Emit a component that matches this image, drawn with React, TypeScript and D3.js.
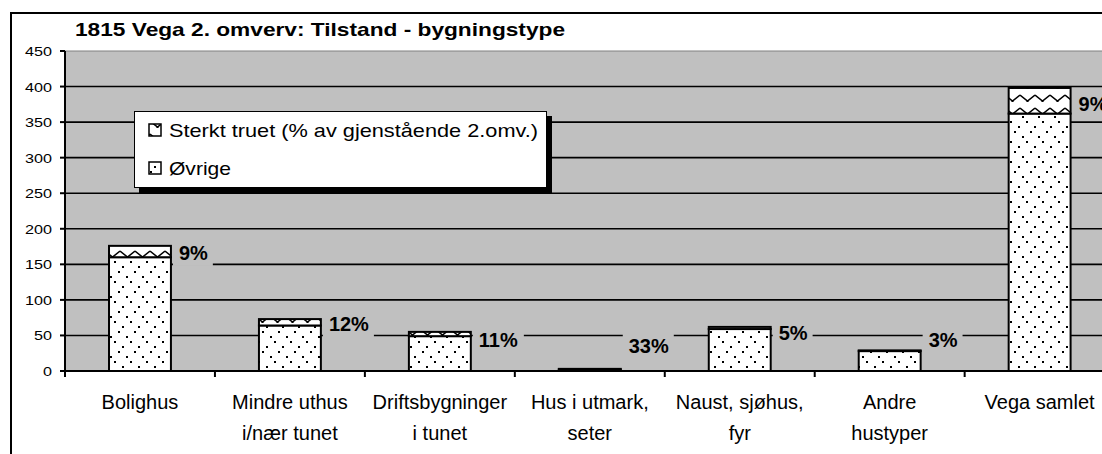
import React from "react";
import * as d3 from "d3";

const categories: string[][] = [
  ["Bolighus"],
  ["Mindre uthus", "i/nær tunet"],
  ["Driftsbygninger", "i tunet"],
  ["Hus i utmark,", "seter"],
  ["Naust, sjøhus,", "fyr"],
  ["Andre", "hustyper"],
  ["Vega samlet"],
];
const ovrige = [160, 64, 49, 2, 59, 28, 362];
const sterktTruet = [16, 9, 6, 1, 3, 1, 36];
const labelLevel = [166, 66, 44, 35, 53, 44, 376];
const yTicks = [0, 50, 100, 150, 200, 250, 300, 350, 400, 450];
const title = "1815 Vega 2. omverv: Tilstand - bygningstype";
const legendLabels = ["Sterkt truet (% av gjenstående 2.omv.)", "Øvrige"];

const W = 1102;
const H = 454;
const plotLeft = 65;
const plotRight = 1114.6;
const plotTop = 51;
const plotBottom = 371;
const FONT = "'Liberation Sans', Arial, Helvetica, sans-serif";

export default function App() {
  const x = d3
    .scaleBand<number>()
    .domain(d3.range(categories.length))
    .range([plotLeft, plotRight])
    .paddingInner(0.587)
    .paddingOuter(0.2935);
  const y = d3.scaleLinear().domain([0, 450]).range([plotBottom, plotTop]);
  const step = x.step();
  const bw = x.bandwidth();

  const pct = ovrige.map((o, i) => Math.round((sterktTruet[i] / (o + sterktTruet[i])) * 100) + "%");

  return (
    <svg
      width={W}
      height={H}
      style={{ position: "absolute", left: 0, top: 0, background: "#fff" }}
      fontFamily={FONT}
    >
      <defs>
        <pattern id="dots" patternUnits="userSpaceOnUse" width={16} height={20}>
          <rect width={16} height={20} fill="#fff" />
          <rect x={2} y={1} width={2} height={2} fill="#000" />
          <rect x={10} y={6} width={2} height={2} fill="#000" />
          <rect x={6} y={11} width={2} height={2} fill="#000" />
          <rect x={14} y={16} width={2} height={2} fill="#000" />
        </pattern>
        <pattern id="zigzag" patternUnits="userSpaceOnUse" width={15} height={13} y={1}>
          <rect width={15} height={13} fill="#fff" />
          <path d="M0,3 L7.5,9 L15,3" fill="none" stroke="#000" strokeWidth={1.6} />
          <rect x={6.5} y={8} width={2} height={2} fill="#000" />
        </pattern>
      </defs>

      {/* chart frame */}
      <rect x={11} y={13} width={1200} height={600} fill="#fff" stroke="#000" strokeWidth={2} />

      {/* title */}
      <text
        x={75}
        y={36}
        fontSize={19}
        fontWeight="bold"
        textLength={490}
        lengthAdjust="spacingAndGlyphs"
        fill="#000"
      >
        {title}
      </text>

      {/* plot area */}
      <rect x={plotLeft} y={plotTop} width={plotRight - plotLeft} height={plotBottom - plotTop} fill="#c0c0c0" />
      <line x1={plotLeft} x2={plotRight} y1={plotTop} y2={plotTop} stroke="#808080" strokeWidth={1} />

      {/* gridlines */}
      {yTicks
        .filter((t) => t > 0 && t < 450)
        .map((t) => (
          <line key={t} x1={plotLeft} x2={plotRight} y1={y(t)} y2={y(t)} stroke="#000" strokeWidth={1.6} />
        ))}

      {/* bars */}
      {categories.map((_, i) => {
        const x0 = x(i)!;
        const total = ovrige[i] + sterktTruet[i];
        return (
          <g key={i}>
            <rect
              x={x0}
              y={y(ovrige[i])}
              width={bw}
              height={y(0) - y(ovrige[i])}
              fill="url(#dots)"
              stroke="#000"
              strokeWidth={2}
            />
            <rect
              x={x0}
              y={y(total)}
              width={bw}
              height={y(ovrige[i]) - y(total)}
              fill="url(#zigzag)"
              stroke="#000"
              strokeWidth={2}
            />
          </g>
        );
      })}

      {/* percentage labels */}
      {categories.map((_, i) => {
        const tx = x(i)! + bw + 8;
        const cy = y(labelLevel[i]);
        const txt = pct[i];
        const nDigits = txt.length - 1;
        const tw = 20 * (0.556 * nDigits + 0.889);
        return (
          <g key={i}>
            <rect x={tx - 6} y={cy - 13} width={tw + 11} height={26} fill="#c0c0c0" />
            <text x={tx} y={cy + 7} fontSize={20} fontWeight="bold" fill="#000">
              {txt}
            </text>
          </g>
        );
      })}

      {/* y axis */}
      <line x1={plotLeft} x2={plotLeft} y1={plotTop} y2={plotBottom} stroke="#000" strokeWidth={2} />
      {yTicks.map((t) => (
        <g key={t}>
          <line x1={plotLeft - 5} x2={plotLeft} y1={y(t)} y2={y(t)} stroke="#000" strokeWidth={2} />
          <text
            x={52}
            y={y(t) + 5}
            fontSize={13}
            textAnchor="end"
            textLength={String(t).length * 9}
            lengthAdjust="spacingAndGlyphs"
            fill="#000"
          >
            {t}
          </text>
        </g>
      ))}

      {/* x axis */}
      <line x1={plotLeft} x2={plotRight} y1={plotBottom} y2={plotBottom} stroke="#000" strokeWidth={2} />
      {d3.range(categories.length + 1).map((i) => (
        <line
          key={i}
          x1={plotLeft + i * step}
          x2={plotLeft + i * step}
          y1={plotBottom}
          y2={plotBottom + 6}
          stroke="#000"
          strokeWidth={2}
        />
      ))}
      {categories.map((lines, i) => (
        <text key={i} x={x(i)! + bw / 2} y={409} fontSize={20} textAnchor="middle" fill="#000">
          {lines.map((l, j) => (
            <tspan key={j} x={x(i)! + bw / 2} y={409 + j * 31}>
              {l}
            </tspan>
          ))}
        </text>
      ))}

      {/* legend */}
      <rect x={139} y={116} width={413} height={77} fill="#000" />
      <rect x={134.5} y={111.5} width={412} height={76} fill="#fff" stroke="#000" strokeWidth={1} />
      <rect x={149} y={124} width={12} height={12} fill="url(#zigzag)" stroke="#000" strokeWidth={1.5} />
      <text x={169} y={137} fontSize={19} textLength={369} lengthAdjust="spacingAndGlyphs" fill="#000">
        {legendLabels[0]}
      </text>
      <rect x={149} y={162} width={12} height={12} fill="url(#dots)" stroke="#000" strokeWidth={1.5} />
      <text x={169} y={175} fontSize={19} textLength={62} lengthAdjust="spacingAndGlyphs" fill="#000">
        {legendLabels[1]}
      </text>
    </svg>
  );
}
